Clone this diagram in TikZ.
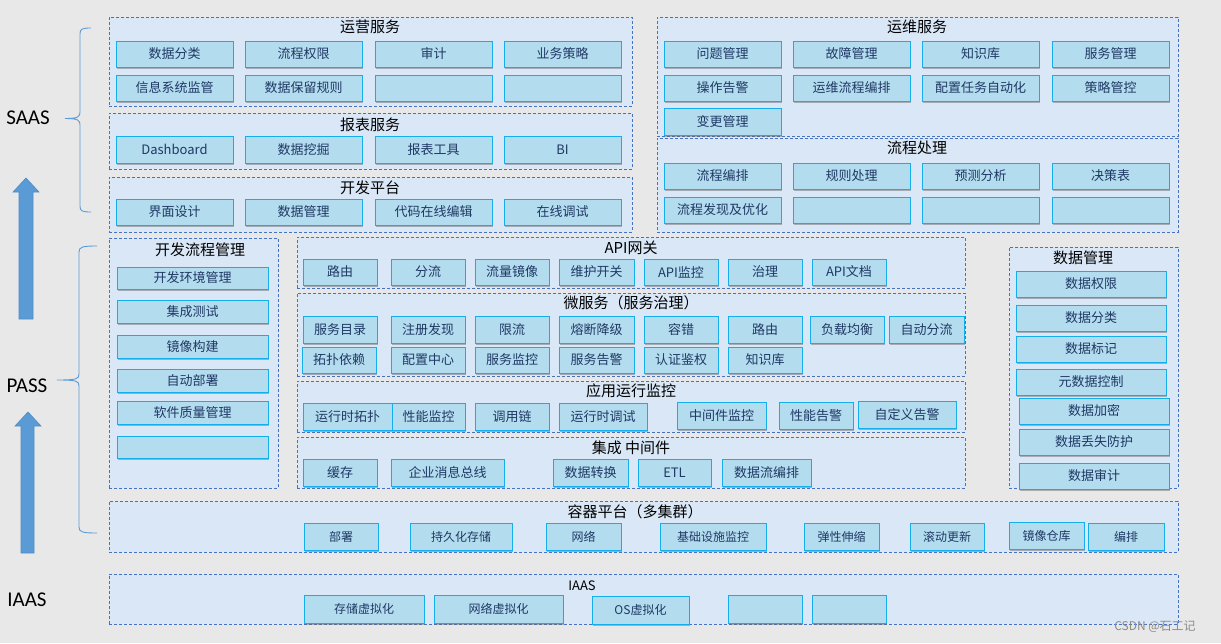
\documentclass[tikz,border=0pt]{standalone}
\usepackage{fontspec}
\setmainfont{Noto Sans CJK SC}
\newfontfamily\cjk{Noto Sans CJK SC}
\newfontfamily\latinlab{Carlito}
\usetikzlibrary{shadows}
\definecolor{bgc}{HTML}{E8E8E8}
\definecolor{grpfill}{HTML}{DAE7F7}
\definecolor{grpdraw}{HTML}{4472C4}
\definecolor{boxfill}{HTML}{B4DCEF}
\definecolor{boxdraw}{HTML}{14AFEA}
\definecolor{boxtext}{HTML}{1F3864}
\definecolor{arrowc}{HTML}{5B9BD5}
\definecolor{arrowd}{HTML}{4F8CC6}
\tikzset{
  bx/.style={draw=boxdraw, fill=boxfill, line width=1pt, text=boxtext,
    font=\cjk\fontsize{13}{13}\selectfont, inner sep=0pt, outer sep=0pt,
    drop shadow={shadow xshift=0.6pt, shadow yshift=-2pt, opacity=0.45, fill=black!60}},
  sbx/.style={bx, font=\cjk\fontsize{12}{12}\selectfont},
  grp/.style={draw=grpdraw, fill=grpfill, dash pattern=on 3pt off 2pt, line width=0.8pt,
    inner sep=0pt, outer sep=0pt},
  gt/.style={text=black, font=\cjk\fontsize{15}{15}\selectfont, inner sep=0pt},
  sidelab/.style={text=black, font=\latinlab\fontsize{21}{21}\selectfont, inner sep=0pt},
  bracel/.style={draw=arrowc, line width=0.9pt},
  uparrow/.style={fill=arrowc, draw=arrowd, line width=0.6pt}
}
\newcommand\bx[6]{\node[bx, minimum width={#4-#2}, minimum height={#5-#3}] (#1) at ({(#2+#4)/2},{(#3+#5)/2}) {#6};}
\newcommand\sbx[6]{\node[sbx, minimum width={#4-#2}, minimum height={#5-#3}] (#1) at ({(#2+#4)/2},{(#3+#5)/2}) {#6};}
\newcommand\grp[5]{\node[grp, minimum width={#4-#2}, minimum height={#5-#3}] (#1) at ({(#2+#4)/2},{(#3+#5)/2}) {};}
\begin{document}
\begin{tikzpicture}[x=1pt, y=-1pt]
\useasboundingbox (0,0) rectangle (1221,643);
\fill[bgc] (0,0) rectangle (1221,643);

% side labels
\node[sidelab] (saas) at (28,118) {SAAS};
\node[sidelab] (pass) at (27,386) {PASS};
\node[sidelab] (iaasl) at (27,600) {IAAS};

% braces
\draw[bracel] (91,28) .. controls (82,28) and (80,29) .. (80,34) -- (80,112)
  .. controls (80,117) and (78,118.5) .. (65,118.5)
  .. controls (78,118.5) and (80,120) .. (80,125) -- (80,206)
  .. controls (80,211) and (82,212) .. (91,212);
\draw[bracel] (97,246) .. controls (82,246) and (79,247) .. (79,252) -- (79,374)
  .. controls (79,379) and (77,380) .. (57,380)
  .. controls (77,380) and (79,381) .. (79,386) -- (79,527)
  .. controls (79,532) and (82,533) .. (97,533);

% up arrows
\draw[uparrow] (19,319) -- (19,192) -- (13,192) -- (26,178) -- (39,192) -- (33,192) -- (33,319) -- cycle;
\draw[uparrow] (21,553) -- (21,426) -- (15,426) -- (28,412) -- (41,426) -- (34,426) -- (34,553) -- cycle;

% ---------------- SAAS groups
\grp{gyy}{109}{17}{632}{106}
\node[gt] (gyyt) at (370,27) {运营服务};
\grp{gbb}{109}{113}{632}{169}
\node[gt] (gbbt) at (370,125) {报表服务};
\grp{gkf}{109}{177}{632}{232}
\node[gt] (gkft) at (370,188) {开发平台};
\grp{gyw}{657}{17}{1178}{136}
\node[gt] (gywt) at (917,27) {运维服务};
\grp{glc}{657}{138}{1178}{232}
\node[gt] (glct) at (917,148) {流程处理};

\bx{a1}{116}{41}{233}{67}{数据分类}
\bx{a2}{245}{41}{362}{67}{流程权限}
\bx{a3}{375}{41}{492}{67}{审计}
\bx{a4}{504}{41}{621}{67}{业务策略}
\bx{a5}{116}{75}{233}{101}{信息系统监管}
\bx{a6}{245}{75}{362}{101}{数据保留规则}
\bx{a7}{375}{75}{492}{101}{}
\bx{a8}{504}{75}{621}{101}{}

\bx{b1}{116}{136}{233}{163}{Dashboard}
\bx{b2}{245}{136}{362}{163}{数据挖掘}
\bx{b3}{375}{136}{492}{163}{报表工具}
\bx{b4}{504}{136}{621}{163}{BI}

\bx{c1}{116}{199}{233}{225}{界面设计}
\bx{c2}{245}{199}{362}{225}{数据管理}
\bx{c3}{375}{199}{492}{225}{代码在线编辑}
\bx{c4}{504}{199}{621}{225}{在线调试}

\bx{d1}{664}{41}{781}{67}{问题管理}
\bx{d2}{793}{41}{910}{67}{故障管理}
\bx{d3}{922}{41}{1039}{67}{知识库}
\bx{d4}{1052}{41}{1169}{67}{服务管理}
\bx{d5}{664}{75}{781}{101}{操作告警}
\bx{d6}{793}{75}{910}{101}{运维流程编排}
\bx{d7}{922}{75}{1039}{101}{配置任务自动化}
\bx{d8}{1052}{75}{1169}{101}{策略管控}
\bx{d9}{664}{108}{781}{135}{变更管理}

\bx{e1}{664}{163}{781}{189}{流程编排}
\bx{e2}{793}{163}{910}{189}{规则处理}
\bx{e3}{922}{163}{1039}{189}{预测分析}
\bx{e4}{1052}{163}{1169}{189}{决策表}
\bx{e5}{664}{197}{781}{223}{流程发现及优化}
\bx{e6}{793}{197}{910}{223}{}
\bx{e7}{922}{197}{1039}{223}{}
\bx{e8}{1052}{197}{1169}{223}{}

% ---------------- PASS groups
\grp{gdev}{109}{238}{278}{488}
\node[gt] (gdevt) at (200,250) {开发流程管理};
\grp{gapi}{297}{237}{965}{288}
\node[gt] (gapit) at (631,248) {API网关};
\grp{gms}{297}{293}{965}{376}
\node[gt] (gmst) at (631,303) {微服务（服务治理）};
\grp{gmon}{297}{381}{965}{432}
\node[gt] (gmont) at (631,391) {应用运行监控};
\grp{gmid}{297}{437}{965}{488}
\node[gt] (gmidt) at (631,448) {集成 中间件};
\grp{gdm}{1009}{247}{1178}{488}
\node[gt] (gdmt) at (1083,258) {数据管理};

\bx{f1}{117}{267}{268}{289}{开发环境管理}
\bx{f2}{117}{300}{268}{323}{集成测试}
\bx{f3}{117}{335}{268}{358}{镜像构建}
\bx{f4}{117}{369}{268}{392}{自动部署}
\bx{f5}{117}{401}{268}{424}{软件质量管理}
\bx{f6}{117}{436}{268}{458}{}

\bx{g1}{303}{259}{377}{285}{路由}
\bx{g2}{391}{259}{465}{285}{分流}
\bx{g3}{475}{259}{549}{285}{流量镜像}
\bx{g4}{559}{259}{634}{285}{维护开关}
\bx{g5}{644}{259}{718}{285}{API监控}
\bx{g6}{728}{259}{802}{285}{治理}
\bx{g7}{812}{259}{886}{285}{API文档}

\bx{h1}{303}{316}{377}{343}{服务目录}
\bx{h2}{391}{316}{465}{343}{注册发现}
\bx{h3}{475}{316}{549}{343}{限流}
\bx{h4}{559}{316}{634}{343}{熔断降级}
\bx{h5}{644}{316}{718}{343}{容错}
\bx{h6}{728}{316}{802}{343}{路由}
\bx{h7}{810}{316}{884}{343}{负载均衡}
\bx{h8}{889}{316}{964}{343}{自动分流}
\bx{h9}{302}{347}{376}{373}{拓扑依赖}
\bx{h10}{391}{347}{465}{373}{配置中心}
\bx{h11}{475}{347}{549}{373}{服务监控}
\bx{h12}{559}{347}{634}{373}{服务告警}
\bx{h13}{644}{347}{718}{373}{认证鉴权}
\bx{h14}{728}{347}{802}{373}{知识库}

\bx{i1}{303}{403}{392}{430}{运行时拓扑}
\bx{i2}{392}{403}{465}{430}{性能监控}
\bx{i3}{475}{403}{549}{430}{调用链}
\bx{i4}{559}{403}{647}{430}{运行时调试}
\bx{i5}{677}{402}{766}{429}{中间件监控}
\bx{i6}{779}{402}{853}{429}{性能告警}
\bx{i7}{858}{401}{956}{428}{自定义告警}

\bx{j1}{303}{459}{377}{486}{缓存}
\bx{j2}{391}{459}{504}{486}{企业消息总线}
\bx{j3}{553}{459}{628}{486}{数据转换}
\bx{j4}{638}{459}{711}{486}{ETL}
\bx{j5}{722}{459}{811}{486}{数据流编排}

\bx{k1}{1016}{271}{1166}{297}{数据权限}
\bx{k2}{1016}{305}{1166}{331}{数据分类}
\bx{k3}{1016}{336}{1166}{362}{数据标记}
\bx{k4}{1016}{369}{1166}{395}{元数据控制}
\bx{k5}{1019}{398}{1169}{424}{数据加密}
\bx{k6}{1019}{429}{1169}{455}{数据丢失防护}
\bx{k7}{1019}{463}{1169}{489}{数据审计}

% ---------------- container platform
\grp{gct}{109}{501}{1178}{552}
\node[gt] (gctt) at (635,512) {容器平台（多集群）};
\sbx{l1}{304}{523}{378}{550}{部署}
\sbx{l2}{410}{523}{512}{550}{持久化存储}
\sbx{l3}{546}{523}{621}{550}{网络}
\sbx{l4}{660}{523}{766}{550}{基础设施监控}
\sbx{l5}{804}{523}{879}{550}{弹性伸缩}
\sbx{l6}{910}{523}{984}{550}{滚动更新}
\sbx{l7}{1009}{522}{1084}{549}{镜像仓库}
\sbx{l8}{1088}{523}{1164}{550}{编排}

% ---------------- IAAS
\grp{giaas}{109}{574}{1178}{624}
\node[gt, font=\cjk\fontsize{13}{13}\selectfont] (giaast) at (582,586) {IAAS};
\sbx{m1}{304}{595}{424}{623}{存储虚拟化}
\sbx{m2}{434}{595}{563}{623}{网络虚拟化}
\sbx{m3}{592}{596}{689}{624}{OS虚拟化}
\sbx{m4}{728}{595}{802}{623}{}
\sbx{m5}{812}{595}{886}{623}{}

% watermark
\node[text=black!45, font=\cjk\fontsize{12}{12}\selectfont, inner sep=0pt] (wm) at (1155,627) {CSDN @石工记};
\end{tikzpicture}
\end{document}
